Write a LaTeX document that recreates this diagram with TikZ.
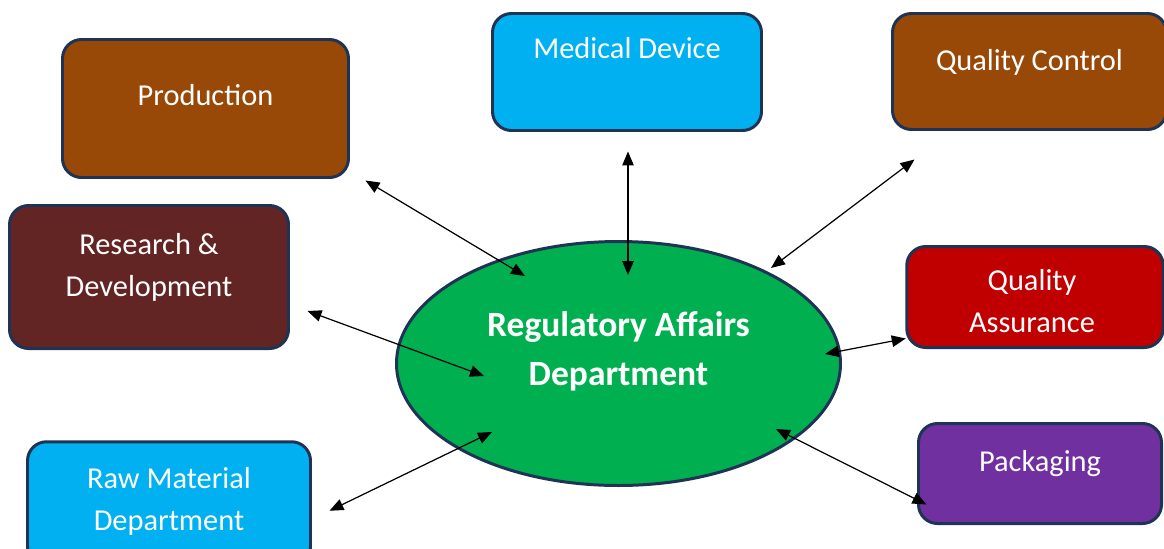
\documentclass[tikz,border=0pt]{standalone}
\usepackage{xcolor}
\usepackage{fontspec}
\setmainfont{Carlito}
\usepackage{tikz}
\usetikzlibrary{positioning, arrows.meta, shapes.geometric}

\definecolor{garisbiru}{HTML}{1F3354}
\definecolor{coklat}{HTML}{984807}
\definecolor{biru}{HTML}{00B0F0}
\definecolor{marun}{HTML}{632523}
\definecolor{merah}{HTML}{C00000}
\definecolor{ungu}{HTML}{7030A0}
\definecolor{hijau}{HTML}{00B050}

\begin{document}
\begin{tikzpicture}[
    dept/.style={rectangle, draw=garisbiru, line width=1.7pt, rounded corners=0.38cm, inner sep=0pt},
    center/.style={ellipse, draw=garisbiru, line width=1.7pt, fill=hijau, inner sep=0pt},
    txt/.style={anchor=north, inner sep=0pt, text=white, align=center, font=\fontsize{17.3}{23.9}\selectfont},
    txtbold/.style={txt, font=\fontsize{20.2}{27.9}\selectfont\bfseries},
    relation/.style={draw, line width=0.7pt, {Triangle[length=2.8mm, width=2.3mm]}-{Triangle[length=2.8mm, width=2.3mm]}}
]
\useasboundingbox (0,0) rectangle (23.28,-10.96);

% Departemen pusat
\node[center, minimum width=8.88cm, minimum height=4.88cm,
    label={[txtbold, yshift=-1.43cm]north:Regulatory Affairs\\Department}] (ra) at (12.37,-7.27) {};

% Departemen lain
\node[dept, fill=coklat, minimum width=5.72cm, minimum height=2.76cm,
    label={[txt, yshift=-0.93cm]north:Production}] (production) at (4.11,-2.17) {};

\node[dept, fill=biru, minimum width=5.38cm, minimum height=2.34cm,
    label={[txt, yshift=-0.51cm]north:Medical Device}] (medical) at (12.54,-1.44) {};

\node[dept, fill=coklat, minimum width=5.48cm, minimum height=2.32cm,
    label={[txt, yshift=-0.75cm]north:Quality Control}] (qc) at (20.59,-1.43) {};

\node[dept, fill=marun, minimum width=5.58cm, minimum height=2.86cm,
    label={[txt, yshift=-0.58cm]north:Research \&\\Development}] (rnd) at (2.98,-5.54) {};

\node[dept, fill=merah, minimum width=5.13cm, minimum height=2.02cm,
    label={[txt, yshift=-0.48cm, xshift=-0.06cm]north:Quality\\Assurance}] (qa) at (20.70,-5.94) {};

\node[dept, fill=biru, minimum width=5.66cm, minimum height=2.47cm,
    label={[txt, yshift=-0.54cm]north:Raw Material\\Department}] (raw) at (3.38,-10.07) {};

\node[dept, fill=ungu, minimum width=4.86cm, minimum height=2.0cm,
    label={[txt, yshift=-0.57cm]north:Packaging}] (packaging) at (20.80,-9.47) {};

% Relasi dua arah
\draw[relation] ([shift={(0.31,-0.03)}]production.south east) -- ([shift={(-1.87,1.75)}]ra.center);
\draw[relation] ([shift={(0.02,-0.39)}]medical.south) -- ([shift={(0.19,1.77)}]ra.center);
\draw[relation] ([shift={(0.47,-0.57)}]qc.south west) -- ([shift={(3.05,1.91)}]ra.center);
\draw[relation] ([shift={(0.35,-0.68)}]rnd.east) -- ([shift={(-2.69,-0.25)}]ra.center);
\draw[relation] ([shift={(0.01,0.21)}]qa.south west) -- ([shift={(4.13,0.19)}]ra.center);
\draw[relation] ([shift={(0.35,-1.41)}]raw.north east) -- ([shift={(-2.53,-1.37)}]ra.center);
\draw[relation] ([shift={(0.19,0.41)}]packaging.south west) -- ([shift={(3.15,-1.31)}]ra.center);

\end{tikzpicture}
\end{document}
